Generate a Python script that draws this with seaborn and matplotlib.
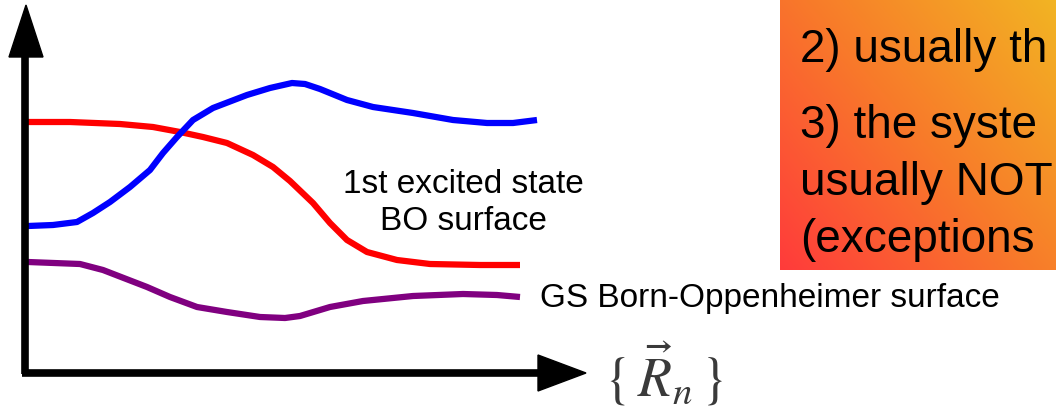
import numpy as np
import pandas as pd
import matplotlib
matplotlib.use("Agg")
import matplotlib.pyplot as plt
import seaborn as sns
from matplotlib.colors import LinearSegmentedColormap

# ---- data (in picture pixel units) ----
red_x = [28, 70, 120, 153, 180, 203, 227, 253, 273, 290, 313, 330, 347, 367, 397, 430, 480, 520]
red_y = [122, 122, 124, 127, 132, 137, 143, 155, 167, 181, 203, 223, 240, 252, 260, 264, 265, 265]

blue_x = [28, 53, 77, 93, 110, 130, 150, 163, 177, 193, 213, 247, 270, 292, 305, 320, 347, 373, 413, 453, 487, 513, 537]
blue_y = [226, 225, 222, 213, 202, 187, 170, 153, 137, 120, 108, 95, 88, 83, 84, 89, 100, 107, 113, 120, 123, 123, 120]

purple_x = [28, 80, 103, 147, 170, 197, 227, 260, 285, 300, 330, 363, 413, 463, 497, 520]
purple_y = [262, 264, 270, 287, 297, 307, 312, 317, 318, 316, 307, 301, 296, 294, 295, 297]

excited_label = "1st excited state\nBO surface"
ground_label = "GS Born-Oppenheimer surface"
axis_label = r"$\{\,\vec{R}_n\,\}$"
box_lines = ["2) usually th", "3) the syste", "usually NOT", "(exceptions"]

W, H = 1056, 407
fig = plt.figure(figsize=(W / 100, H / 100), dpi=100)
ax = fig.add_axes([0, 0, 1, 1])

font = "Liberation Sans"

# gradient box
cmap = LinearSegmentedColormap.from_list("g", ["#ff3b3b", "#f87a2a", "#f2b423"])
gx, gy = np.meshgrid(np.linspace(0, 1, 200), np.linspace(0, 1, 200))
grad = 0.55 * gx + 0.45 * (1 - gy)
ax.imshow(grad, cmap=cmap, extent=(780, W, 270, 0), aspect="auto", zorder=0,
          interpolation="bilinear")
for i, t in enumerate(box_lines):
    yb = [62, 138, 195, 252][i]
    ax.text(800, yb, t, fontsize=33, family=font, va="baseline", ha="left",
            color="black", zorder=3)

# curves
df = pd.concat([
    pd.DataFrame({"x": red_x, "y": red_y, "s": "red"}),
    pd.DataFrame({"x": blue_x, "y": blue_y, "s": "blue"}),
    pd.DataFrame({"x": purple_x, "y": purple_y, "s": "purple"}),
])
sns.lineplot(data=df, x="x", y="y", hue="s", sort=False, estimator=None,
             palette={"red": "#ff0000", "blue": "#0000ff", "purple": "#800080"},
             linewidth=4.5, legend=False, ax=ax, zorder=2)
for l in ax.lines:
    l.set_solid_capstyle("butt")
    l.set_solid_joinstyle("round")
ax.set_xlim(0, W)
ax.set_ylim(H, 0)
ax.axis("off")

# axes arrows
ax.plot([25, 25], [374, 55], color="black", lw=5.5, solid_capstyle="butt", zorder=3)
ax.plot([22, 545], [373, 373], color="black", lw=5.5, solid_capstyle="butt", zorder=3)
ax.add_patch(plt.Polygon([[9, 57], [43, 57], [26, 5]], closed=True, color="black", zorder=3))
ax.add_patch(plt.Polygon([[538, 355], [538, 391], [586, 373]], closed=True, color="black", zorder=3))

# labels
ax.text(463, 203, excited_label, fontsize=24, family=font, ha="center", va="center",
        linespacing=1.25, zorder=3)
ax.text(540, 298, ground_label, fontsize=24, family=font, ha="left", va="center", zorder=3)
plt.rcParams["mathtext.fontset"] = "stix"
ax.text(604, 374, axis_label, fontsize=40, ha="left", va="center", color="#3a3a3a", zorder=3)

fig.savefig("out.png", dpi=100)
